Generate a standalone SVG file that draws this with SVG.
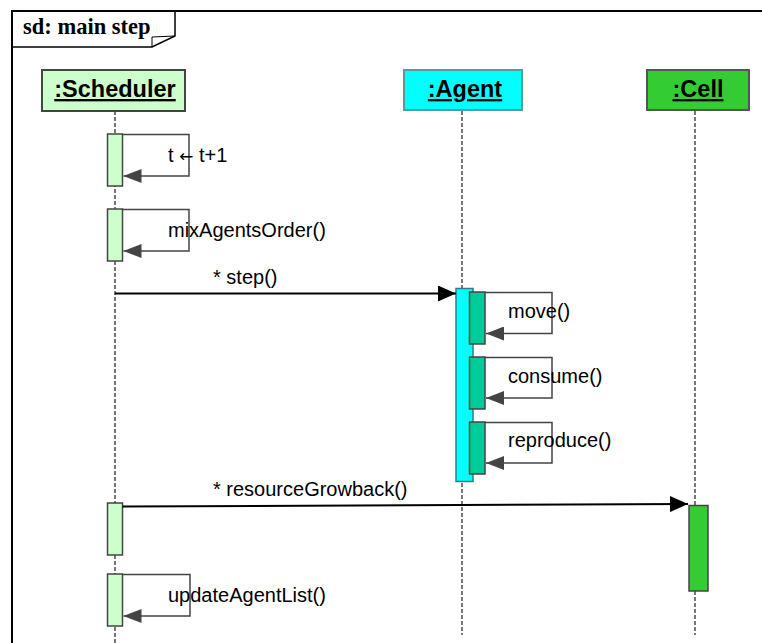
<svg xmlns="http://www.w3.org/2000/svg" width="762" height="643" viewBox="0 0 762 643">
<defs>
<style>
.frame{fill:none;stroke:#000;stroke-width:2}
.life{stroke:#555;stroke-width:1.6;stroke-dasharray:4,2;fill:none}
.head{font-family:"Liberation Sans",Arial,sans-serif;font-weight:bold;font-size:23.5px;text-anchor:middle;text-decoration:underline}
.lbl{font-family:"Liberation Sans",Arial,sans-serif;font-size:20px;fill:#000}
.act{stroke:#444;stroke-width:1.5}
.sched{fill:#ccffcc}
.agent{fill:#00ffff;stroke:#2b8080}
.sub{fill:#00cc99}
.cell{fill:#33cc33}
.self{fill:none;stroke:#444;stroke-width:1.5}
.msg{stroke:#000;stroke-width:2;fill:none}
</style>
<marker id="sa" markerWidth="18" markerHeight="14" refX="18" refY="7" orient="auto" markerUnits="userSpaceOnUse" viewBox="0 0 18 14">
<path d="M0,0 L18,7 L0,14 Z" fill="#444"/>
</marker>
<marker id="ma" markerWidth="18" markerHeight="16" refX="18" refY="8" orient="auto" markerUnits="userSpaceOnUse" viewBox="0 0 18 16">
<path d="M0,0 L18,8 L0,16 Z" fill="#000"/>
</marker>
</defs>
<rect width="762" height="643" fill="#fff"/>
<g id="frame">
<path class="frame" d="M12,660 L12,11 L770,11"/>
<path d="M12,47 L152,47 L175,36 L175,11" fill="none" stroke="#000" stroke-width="1.5"/>
<path d="M152,47 L152,37 L175,36" fill="none" stroke="#000" stroke-width="1"/>
<text x="23" y="34" font-family="Liberation Serif,Times New Roman,serif" font-weight="bold" font-size="22.5">sd: main step</text>
</g>
<g id="lifelines">
<line class="life" x1="115" y1="111" x2="115" y2="643"/>
<line class="life" x1="462" y1="111" x2="462" y2="635"/>
<line class="life" x1="695" y1="111" x2="695" y2="635"/>
</g>
<g id="scheduler">
<rect x="42" y="70" width="143" height="41" fill="#ccffcc" stroke="#444" stroke-width="2"/>
<text class="head" x="115" y="97">:Scheduler</text>
</g>
<g id="agent">
<rect x="404" y="70" width="118" height="40" fill="#00ffff" stroke="#5a9a9a" stroke-width="2"/>
<text class="head" x="465" y="97">:Agent</text>
</g>
<g id="cell">
<rect x="647" y="70" width="102" height="40" fill="#33cc33" stroke="#555" stroke-width="2"/>
<text class="head" x="698" y="97">:Cell</text>
</g>
<g id="activations">
<rect class="act sched" x="107.5" y="134" width="15" height="52"/>
<rect class="act sched" x="107.5" y="209" width="15" height="52"/>
<rect class="act sched" x="107.5" y="503" width="15" height="52"/>
<rect class="act sched" x="107.5" y="574" width="15" height="52"/>
<rect class="act agent" x="456" y="288.5" width="17" height="193"/>
<rect class="act sub" x="469.5" y="292" width="15.5" height="52"/>
<rect class="act sub" x="469.5" y="357" width="15.5" height="52"/>
<rect class="act sub" x="469.5" y="422" width="15.5" height="52"/>
<rect class="act cell" x="689" y="505.5" width="19" height="85.5" stroke="#222"/>
</g>
<g id="connectors">
<path class="self" d="M122.5,134.5 H189 V176 H123.5" marker-end="url(#sa)"/>
<path class="self" d="M122.5,209.5 H189 V251 H123.5" marker-end="url(#sa)"/>
<path class="self" d="M122.5,574.5 H190 V616 H123.5" marker-end="url(#sa)"/>
<path class="self" d="M485,292.5 H552 V333.5 H486" marker-end="url(#sa)"/>
<path class="self" d="M485,357.5 H552 V398 H486" marker-end="url(#sa)"/>
<path class="self" d="M485,422.5 H552 V463 H486" marker-end="url(#sa)"/>
<line class="msg" x1="115" y1="293.5" x2="456" y2="293.5" marker-end="url(#ma)"/>
<line class="msg" x1="122.5" y1="506.5" x2="688" y2="504" marker-end="url(#ma)"/>
</g>
<g id="labels">
<text class="lbl" x="168" y="162">t <tspan font-family="DejaVu Sans,sans-serif" font-size="17">←</tspan> t+1</text>
<text class="lbl" x="168" y="237">mixAgentsOrder()</text>
<text class="lbl" x="213" y="284">* step()</text>
<text class="lbl" x="508" y="318">move()</text>
<text class="lbl" x="508" y="383">consume()</text>
<text class="lbl" x="508" y="447">reproduce()</text>
<text class="lbl" x="213" y="496">* resourceGrowback()</text>
<text class="lbl" x="168" y="602">updateAgentList()</text>
</g>
</svg>
